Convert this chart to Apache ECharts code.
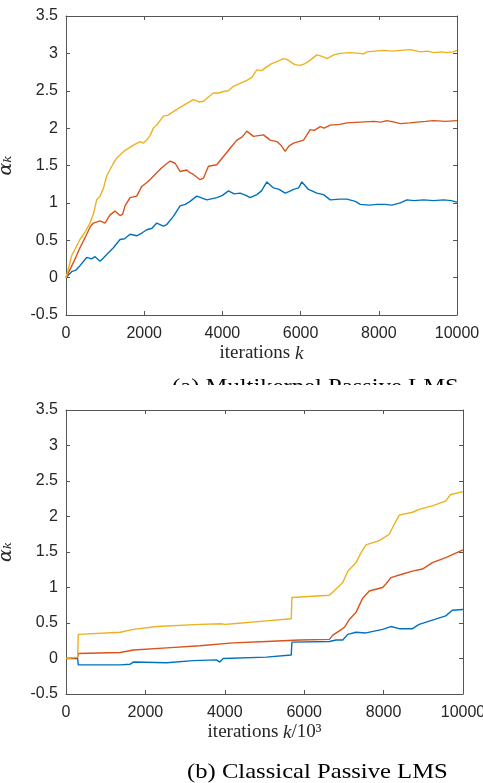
<!DOCTYPE html>
<html><head><meta charset="utf-8">
<script src="https://cdn.jsdelivr.net/npm/echarts@6/dist/echarts.min.js"></script>
<style>html,body{margin:0;padding:0;background:#fff}#c{width:483px;height:783px}</style>
</head><body><div id="c"></div>
<script>
// ---- data ----
const yTicks = [-0.5, 0, 0.5, 1, 1.5, 2, 2.5, 3, 3.5];
const xTicks = [0, 2000, 4000, 6000, 8000, 10000];
const captionA = '(a) Multikernel Passive LMS';
const captionB = '(b) Classical Passive LMS';
// (a) Multikernel Passive LMS: [iteration k, alpha_k]
const mkYellow = [[0,0],[150,0.3],[358,0.51],[500,0.62],[614,0.73],[700,0.85],[785,1.04],[870,1.09],[960,1.2],[1041,1.36],[1130,1.45],[1212,1.53],[1300,1.6],[1382,1.64],[1500,1.7],[1596,1.73],[1750,1.78],[1894,1.82],[1980,1.8],[2065,1.84],[2150,1.9],[2235,2.0],[2350,2.06],[2491,2.16],[2600,2.17],[2747,2.22],[2900,2.27],[3089,2.33],[3259,2.38],[3400,2.35],[3515,2.36],[3650,2.42],[3771,2.47],[3900,2.47],[4027,2.49],[4150,2.5],[4283,2.56],[4450,2.6],[4625,2.64],[4750,2.68],[4881,2.78],[5000,2.77],[5137,2.82],[5250,2.86],[5392,2.89],[5563,2.93],[5650,2.92],[5734,2.89],[5850,2.85],[5990,2.84],[6100,2.86],[6246,2.91],[6416,2.98],[6550,2.96],[6672,2.93],[6850,2.98],[7014,3.0],[7250,3.01],[7526,3.0],[7600,2.99],[7696,3.02],[7900,3.03],[8123,3.04],[8350,3.03],[8549,3.04],[8805,3.05],[8900,3.04],[9061,3.02],[9250,3.03],[9403,3.01],[9600,3.02],[9744,3.01],[9900,3.02],[10000,3.04]];
const mkRed = [[0,0],[188,0.2],[358,0.4],[529,0.58],[620,0.68],[700,0.73],[870,0.76],[998,0.73],[1126,0.84],[1254,0.89],[1382,0.83],[1450,0.85],[1510,0.96],[1638,1.07],[1809,1.09],[1937,1.22],[2108,1.29],[2278,1.38],[2449,1.47],[2662,1.56],[2790,1.53],[2918,1.42],[3089,1.44],[3180,1.4],[3259,1.38],[3430,1.31],[3515,1.33],[3643,1.49],[3857,1.51],[4027,1.62],[4198,1.73],[4369,1.84],[4500,1.88],[4625,1.96],[4795,1.89],[5051,1.91],[5222,1.84],[5392,1.82],[5500,1.77],[5606,1.69],[5700,1.76],[5819,1.8],[6075,1.84],[6150,1.9],[6246,1.98],[6350,1.97],[6502,2.02],[6600,2.0],[6758,2.04],[7000,2.05],[7184,2.07],[7526,2.08],[7867,2.09],[8050,2.08],[8208,2.1],[8400,2.08],[8549,2.06],[8800,2.07],[8976,2.08],[9200,2.09],[9403,2.1],[9700,2.09],[10000,2.1]];
const mkBlue = [[0,0],[145,0.08],[250,0.1],[358,0.16],[529,0.27],[650,0.25],[742,0.28],[870,0.22],[950,0.26],[1041,0.31],[1212,0.4],[1382,0.51],[1500,0.52],[1638,0.58],[1809,0.56],[1950,0.6],[2065,0.64],[2200,0.66],[2321,0.73],[2491,0.69],[2577,0.71],[2747,0.82],[2918,0.96],[3050,0.98],[3174,1.02],[3345,1.09],[3450,1.07],[3601,1.04],[3857,1.07],[4000,1.1],[4155,1.16],[4300,1.12],[4454,1.13],[4600,1.1],[4710,1.07],[4881,1.11],[5000,1.16],[5137,1.28],[5307,1.2],[5450,1.18],[5606,1.13],[5700,1.15],[5819,1.18],[5950,1.2],[6032,1.28],[6203,1.18],[6416,1.13],[6587,1.11],[6758,1.04],[7000,1.05],[7184,1.05],[7400,1.02],[7526,0.98],[7750,0.97],[7952,0.98],[8150,0.98],[8336,0.97],[8550,1.0],[8720,1.04],[8900,1.03],[9147,1.04],[9400,1.03],[9659,1.04],[9850,1.03],[10000,1.01]];
// (b) Classical Passive LMS: [iteration k, alpha_k]
const clYellow = [[0,0],[293,0.02],[310,0.02],[310,0.34],[1364,0.37],[1699,0.41],[2285,0.45],[3372,0.48],[3900,0.49],[4000,0.48],[4209,0.49],[5046,0.53],[5674,0.56],[5690,0.56],[5690,0.86],[6636,0.89],[6803,0.98],[6971,1.07],[7097,1.23],[7305,1.35],[7431,1.49],[7556,1.6],[7891,1.66],[8142,1.75],[8268,1.89],[8393,2.02],[8728,2.06],[8895,2.1],[9230,2.15],[9565,2.22],[9690,2.31],[10000,2.35]];
const clRed = [[0,0],[293,0.01],[310,0.01],[310,0.07],[1364,0.085],[1699,0.12],[2536,0.15],[3372,0.18],[4209,0.22],[5046,0.24],[5883,0.26],[6636,0.27],[6720,0.33],[6887,0.39],[7013,0.44],[7138,0.55],[7305,0.65],[7473,0.85],[7640,0.95],[7975,1.0],[8059,1.05],[8184,1.14],[8477,1.19],[8728,1.23],[8979,1.26],[9230,1.35],[9565,1.42],[10000,1.53]];
const clBlue = [[0,0],[293,0.0],[310,0.0],[310,-0.09],[1364,-0.09],[1615,-0.08],[1699,-0.05],[2536,-0.06],[3205,-0.03],[3791,-0.02],[3874,-0.05],[3958,0.0],[5046,0.02],[5674,0.05],[5690,0.05],[5690,0.23],[6636,0.24],[6803,0.26],[6971,0.26],[7097,0.34],[7305,0.37],[7556,0.36],[7975,0.41],[8184,0.45],[8393,0.42],[8728,0.42],[8895,0.48],[9230,0.54],[9565,0.6],[9732,0.68],[10000,0.69]];

const BLUE = '#0072BD', RED = '#D95319', YEL = '#EDB120';
const frameColor = '#555555', labelColor = '#262626';

function xAx(gi, isMain, nameRich) {
  return {
    type: 'value', gridIndex: gi, min: xTicks[0], max: xTicks[xTicks.length-1], interval: 2000,
    position: isMain ? 'bottom' : 'top',
    axisLine: {show: true, onZero: false, lineStyle: {color: frameColor, width: 1}},
    axisTick: {show: true, inside: true, length: 4, lineStyle: {color: frameColor}},
    axisLabel: {show: isMain, color: labelColor, fontFamily: 'Liberation Sans', fontSize: 16, margin: 11,
      formatter: v => String(v)},
    splitLine: {show: false},
    name: isMain ? nameRich : '', nameLocation: 'middle', nameGap: 29,
    nameTextStyle: {color: labelColor, fontFamily: 'Liberation Serif', fontSize: 19,
      rich: {n: {fontFamily: 'Liberation Serif', fontSize: 19, color: labelColor},
             i: {fontFamily: 'Liberation Serif', fontStyle: 'italic', fontSize: 19, color: labelColor}}}
  };
}
function yAx(gi, isMain) {
  return {
    type: 'value', gridIndex: gi, min: yTicks[0], max: yTicks[yTicks.length-1], interval: 0.5,
    position: isMain ? 'left' : 'right',
    axisLine: {show: true, onZero: false, lineStyle: {color: frameColor, width: 1}},
    axisTick: {show: true, inside: true, length: 4, lineStyle: {color: frameColor}},
    axisLabel: {show: isMain, color: labelColor, fontFamily: 'Liberation Sans', fontSize: 16, margin: 8,
      formatter: v => String(v)},
    splitLine: {show: false},
    name: isMain ? 'αₖ' : '', nameLocation: 'middle', nameGap: 50, nameRotate: 90,
    nameTextStyle: {color: labelColor, fontFamily: 'DejaVu Serif', fontStyle: 'italic', fontSize: 19}
  };
}
function ser(data, color, gi) {
  return {type: 'line', xAxisIndex: gi*2, yAxisIndex: gi*2, data: data, showSymbol: false,
    symbol: 'none', animation: false, lineStyle: {color: color, width: 1.4}, z: 3};
}

const chart = echarts.init(document.getElementById('c'), null, {renderer: 'canvas'});
chart.setOption({
  backgroundColor: '#fff',
  animation: false,
  grid: [
    {left: 66, top: 16, width: 391, height: 299, outerBoundsMode: 'none', containLabel: false},
    {left: 66, top: 410, width: 397, height: 284, outerBoundsMode: 'none', containLabel: false}
  ],
  xAxis: [
    xAx(0, true, '{n|iterations }{i|k}'), xAx(0, false),
    xAx(1, true, '{n|iterations }{i|k}{n|/10³}'), xAx(1, false)
  ],
  yAxis: [yAx(0, true), yAx(0, false), yAx(1, true), yAx(1, false)],
  series: [
    ser(mkBlue, BLUE, 0), ser(mkRed, RED, 0), ser(mkYellow, YEL, 0),
    ser(clBlue, BLUE, 1), ser(clRed, RED, 1), ser(clYellow, YEL, 1)
  ],
  graphic: [
    {type: 'text', left: 172, top: 376, z: 10, style: {text: captionA, fontFamily: 'Liberation Serif', fontSize: 22, fill: '#000'}, scaleX: 1.12},
    {type: 'rect', left: 0, top: 385, z: 11, shape: {width: 483, height: 15}, style: {fill: '#fff'}},
    {type: 'text', left: 187, top: 761, z: 10, style: {text: captionB, fontFamily: 'Liberation Serif', fontSize: 22, fill: '#000'}, scaleX: 1.12}
  ]
});
</script></body></html>
